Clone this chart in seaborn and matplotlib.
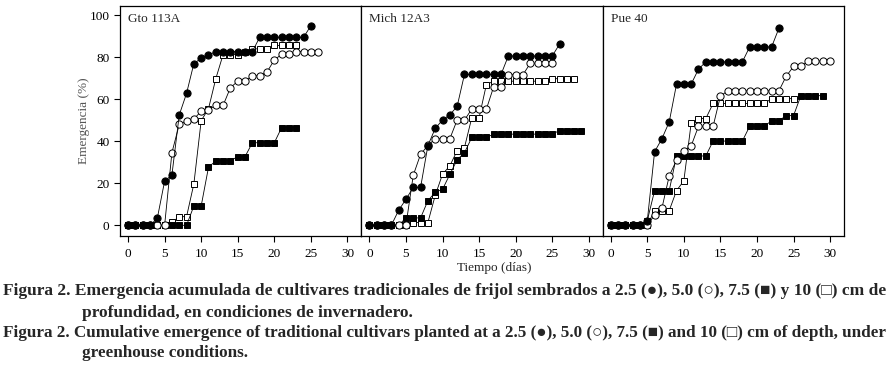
"""Cumulative emergence of traditional bean cultivars at four sowing depths."""

import matplotlib.pyplot as plt
import pandas as pd
import seaborn as sns

# Emergence (%) per day, day 0 first.
PANELS = ["Gto 113A", "Mich 12A3", "Pue 40"]

gto_25 = [0, 0, 0, 0, 3.3, 21, 24, 52.5, 62.8, 77, 79.5, 81, 82.7, 82.7, 82.7,
          82.7, 82.7, 82.7, 89.5, 89.5, 89.5, 89.5, 89.5, 89.5, 89.5, 95]
gto_50 = [0, 0, 0, 0, 0, 0, 34.6, 48, 49.7, 50.6, 54.3, 55, 57.1, 57.1, 65.5,
          68.6, 68.6, 71.2, 71.2, 73, 78.7, 81.4, 81.4, 82.7, 82.7, 82.7, 82.7]
gto_75 = [0, 0, 0, 0, 0, 0, 0, 0, 0, 9.2, 9.2, 27.6, 30.7, 30.7, 30.7, 32.7,
          32.7, 39.3, 39.3, 39.3, 39.3, 46.5, 46.5, 46.5]
gto_10 = [0, 0, 0, 0, 0, 0, 1.4, 4.1, 4.1, 19.7, 49.8, 55.5, 69.8, 81.3, 81.3,
          81.3, 82.7, 84, 84, 84, 85.6, 85.6, 85.6, 85.6]

mich_25 = [0, 0, 0, 0, 7.1, 12.4, 18, 18, 37.9, 46.1, 50.1, 52.6, 56.6, 71.8,
           71.8, 71.8, 71.8, 71.8, 71.8, 80.6, 80.6, 80.6, 80.6, 80.6, 80.6,
           80.6, 86.2]
mich_50 = [0, 0, 0, 0, 0, 0, 23.8, 33.8, 38, 41.2, 41.2, 41.2, 50.1, 50.1, 55.3,
           55.3, 55.3, 66, 66, 71.7, 71.7, 71.7, 77.1, 77.1, 77.1, 77.1]
mich_75 = [0, 0, 0, 0, 0, 3.5, 3.5, 3.5, 11.7, 15.7, 17.1, 24.2, 31.2, 34.5,
           41.8, 41.8, 41.8, 43.4, 43.4, 43.4, 43.4, 43.4, 43.4, 43.4, 43.4,
           43.4, 45.1, 45.1, 45.1, 45.1]
mich_10 = [0, 0, 0, 0, 0, 0, 1.3, 1.3, 1.3, 14.2, 24.3, 28.3, 35.5, 37, 51.2,
           51.2, 67, 68.6, 68.6, 68.6, 68.6, 68.6, 68.6, 68.6, 68.6, 69.8, 69.8,
           69.8, 69.8]

pue_25 = [0, 0, 0, 0, 0, 2, 35, 41.2, 49.2, 67.2, 67.2, 67.2, 74.3, 77.8, 77.8,
          77.8, 77.8, 77.8, 77.8, 84.9, 84.9, 84.9, 84.9, 93.8]
pue_50 = [0, 0, 0, 0, 0, 0, 4.9, 8.1, 23.5, 31, 35.5, 37.8, 47.1, 47.1, 47.1,
          61.5, 64, 64, 64, 64, 64, 64, 64, 64, 71, 75.6, 75.6, 78.2, 78.2,
          78.2, 78.2]
pue_75 = [0, 0, 0, 0, 0, 2.2, 16.5, 16.5, 16.5, 33, 33, 33, 33, 33, 40.1, 40.1,
          40.1, 40.1, 40.1, 47.1, 47.1, 47.1, 49.8, 49.8, 52.2, 52.2, 61.7,
          61.7, 61.7, 61.7]
pue_10 = [0, 0, 0, 0, 0, 0, 7, 7, 7, 16.5, 21.2, 48.6, 50.8, 50.8, 58, 58, 58,
          58, 58, 58, 58, 58, 60.3, 60.3, 60.3, 60.3]

SERIES = {
    "Gto 113A": {"2.5": gto_25, "5.0": gto_50, "7.5": gto_75, "10": gto_10},
    "Mich 12A3": {"2.5": mich_25, "5.0": mich_50, "7.5": mich_75, "10": mich_10},
    "Pue 40": {"2.5": pue_25, "5.0": pue_50, "7.5": pue_75, "10": pue_10},
}

# marker style per depth (drawn in this order)
STYLE = {
    "10": dict(marker="s", markerfacecolor="white", markersize=4.8),
    "7.5": dict(marker="s", markerfacecolor="black", markersize=4.8),
    "5.0": dict(marker="o", markerfacecolor="white", markersize=5.2),
    "2.5": dict(marker="o", markerfacecolor="black", markersize=5.2),
}

CAPTION = [
    "Figura 2. Emergencia acumulada de cultivares tradicionales de frijol "
    "sembrados a 2.5 (\u25cf), 5.0 (\u25cb), 7.5 (\u25a0) y 10 (\u25a1) cm de",
    "profundidad, en condiciones de invernadero.",
    "Figura 2. Cumulative emergence of traditional cultivars planted at a "
    "2.5 (\u25cf), 5.0 (\u25cb), 7.5 (\u25a0) and 10 (\u25a1) cm of depth, under",
    "greenhouse conditions.",
]

sns.set_theme(style="ticks")
plt.rcParams["font.family"] = ["Liberation Serif", "DejaVu Serif"]
plt.rcParams["font.size"] = 9.5

W, H = 895, 368
fig, axes = plt.subplots(1, 3, figsize=(W / 100, H / 100), dpi=100, sharey=True)
fig.subplots_adjust(left=120 / W, right=844 / W, bottom=1 - 236 / H,
                    top=1 - 6 / H, wspace=0)

for ax, panel in zip(axes, PANELS):
    for depth, kw in STYLE.items():
        vals = SERIES[panel][depth]
        d = pd.DataFrame({"day": range(len(vals)), "emergence": vals})
        sns.lineplot(data=d, x="day", y="emergence", ax=ax, color="black",
                     linewidth=0.6, markeredgecolor="black",
                     markeredgewidth=0.7, **kw)
    ax.set_xlim(-1.1, 31.9)
    ax.set_ylim(-5.1, 104.4)
    ax.set_xticks([0, 5, 10, 15, 20, 25, 30])
    ax.set_yticks([0, 20, 40, 60, 80, 100])
    ax.set_xlabel("")
    ax.set_ylabel("")
    ax.tick_params(axis="both", direction="out", length=4.5, width=0.8,
                   labelsize=9.5, pad=3, color="black", labelcolor="black")
    ax.tick_params(axis="x", pad=4)
    for sp in ax.spines.values():
        sp.set_visible(True)
        sp.set_linewidth(0.9)
        sp.set_color("black")
    ax.text(8 / 241, 0.945, panel, transform=ax.transAxes, fontsize=9.5,
            ha="left", va="center")

for ax in axes[1:]:
    ax.tick_params(axis="y", length=0)

axes[0].set_ylabel("Emergencia (%)", fontsize=9.5, color="#555555", labelpad=0)
fig.text(494 / W, 1 - 268 / H, "Tiempo (días)", ha="center", va="center",
         fontsize=9.5)

cap_pos = [(3, 291, 12.5), (82, 313, 12.5), (3, 333, 12.3), (82, 353, 12.3)]
for (x, y, fs), line in zip(cap_pos, CAPTION):
    fig.text(x / W, 1 - y / H, line, ha="left", va="center",
             fontsize=fs, fontweight="bold")

fig.savefig("out.png", dpi=100)
